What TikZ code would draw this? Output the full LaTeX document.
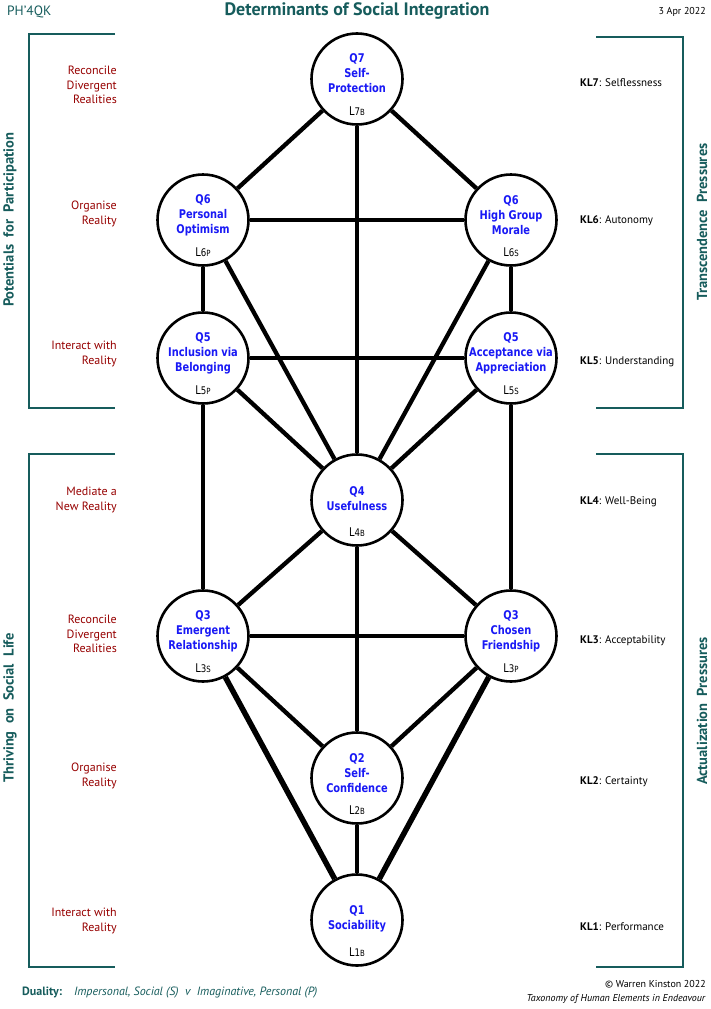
\documentclass[tikz,border=0pt]{standalone}
\usepackage{fontspec}
\setmainfont{PT Sans}
\newfontfamily\qfont[FakeStretch=0.82]{DejaVu Sans}
\usetikzlibrary{backgrounds}
\definecolor{myteal}{RGB}{22,92,92}
\definecolor{myred}{RGB}{150,0,0}
\definecolor{myblue}{RGB}{25,25,245}
\newcommand\qnodeX[6]{%
  \node[qnode] (#1) at (#2,#3) {};
  \node[qtext] (#1t) at (#2,{#3+#6}) {#4};
  \node[lvl] (#1l) at (#2,{#3+32}) {#5};
}
\newcommand\lv[2]{L{\fontsize{10.5}{10.5}\selectfont #1}{\fontsize{8.5}{8.5}\selectfont #2}}
\begin{document}
\begin{tikzpicture}[x=1pt,y=-1pt,
  qnode/.style={circle, draw=black, line width=2.6pt, fill=white, minimum size=91pt, inner sep=0pt},
  qtext/.style={font=\qfont\fontsize{12}{15}\selectfont\bfseries, text=myblue, align=center, inner sep=0pt},
  lvl/.style={font=\qfont\fontsize{12}{12}\selectfont, inner sep=0pt},
  edge/.style={line width=4.3pt},
  fatedge/.style={line width=5.5pt},
  bracket/.style={draw=myteal, line width=2.8pt},
  leftlab/.style={font=\fontsize{12}{14.5}\selectfont, text=myred, align=right, anchor=east, inner sep=0pt},
  rightlab/.style={font=\fontsize{11}{13}\selectfont, anchor=west, inner sep=0pt},
  vlab/.style={font=\fontsize{14.5}{15}\selectfont\bfseries, text=myteal, rotate=90, inner sep=0pt}
]
\useasboundingbox (0,0) rectangle (710,1009);

% header
\node[anchor=west, font=\fontsize{13.5}{14}\selectfont, text=myteal, inner sep=0pt] (hdr) at (7,12) {PH’4QK};
\node[font=\fontsize{18}{18}\selectfont\bfseries, text=myteal, inner sep=0pt] (title) at (357,11) {Determinants of Social Integration};
\node[anchor=east, font=\fontsize{10}{10}\selectfont, inner sep=0pt] (date) at (706,12) {3 Apr 2022};

% brackets
\draw[bracket] (115,34) -- (29,34) -- (29,408) -- (115,408);
\draw[bracket] (115,454) -- (29,454) -- (29,967) -- (115,967);
\draw[bracket] (596,37) -- (683,37) -- (683,408) -- (596,408);
\draw[bracket] (596,454) -- (683,454) -- (683,967) -- (596,967);

% vertical labels
\node[vlab] (vl1) at (10,220) {Potentials\ \ for\ \ Participation};
\node[vlab] (vl2) at (10,708) {Thriving\ \ on\ \ Social\ \ Life};
\node[vlab] (vr1) at (702,222) {Transcendence\ \ Pressures};
\node[vlab] (vr2) at (702,711) {Actualization\ \ Pressures};

% left labels
\node[leftlab] (ll7) at (117,85) {Reconcile\\Divergent\\Realities};
\node[leftlab] (ll6) at (117,214) {Organise\\Reality};
\node[leftlab] (ll5) at (117,354) {Interact with\\Reality};
\node[leftlab] (ll4) at (117,500) {Mediate a\\New Reality};
\node[leftlab] (ll3) at (117,634) {Reconcile\\Divergent\\Realities};
\node[leftlab] (ll2) at (117,776) {Organise\\Reality};
\node[leftlab] (ll1) at (117,921) {Interact with\\Reality};

% right labels
\node[rightlab] (rl7) at (580,83) {\textbf{KL7}: Selflessness};
\node[rightlab] (rl6) at (580,221) {\textbf{KL6}: Autonomy};
\node[rightlab] (rl5) at (580,362) {\textbf{KL5}: Understanding};
\node[rightlab] (rl4) at (580,502) {\textbf{KL4}: Well-Being};
\node[rightlab] (rl3) at (580,641) {\textbf{KL3}: Acceptability};
\node[rightlab] (rl2) at (580,782) {\textbf{KL2}: Certainty};
\node[rightlab] (rl1) at (580,927) {\textbf{KL1}: Performance};

% nodes
\qnodeX{q7}{357}{79}{Q7\\Self-\\Protection}{\lv{7}{B}}{-6}
\qnodeX{q6p}{203}{220}{Q6\\Personal\\Optimism}{\lv{6}{P}}{-5}
\qnodeX{q6s}{511}{220}{Q6\\High Group\\Morale}{\lv{6}{S}}{-5}
\qnodeX{q5p}{203}{358}{Q5\\Inclusion via\\Belonging}{\lv{5}{P}}{-5}
\qnodeX{q5s}{511}{358}{Q5\\Acceptance via\\Appreciation}{\lv{5}{S}}{-5}
\qnodeX{q4}{357}{500}{Q4\\Usefulness}{\lv{4}{B}}{-1}
\qnodeX{q3s}{203}{636}{Q3\\Emergent\\Relationship}{\lv{3}{S}}{-5}
\qnodeX{q3p}{511}{636}{Q3\\Chosen\\Friendship}{\lv{3}{P}}{-5}
\qnodeX{q2}{357}{778}{Q2\\Self-\\Confidence}{\lv{2}{B}}{-5}
\qnodeX{q1}{357}{920}{Q1\\Sociability}{\lv{1}{B}}{-1}

% edges
\begin{scope}[on background layer]
\draw[edge] (q7) -- (q6p);
\draw[edge] (q7) -- (q6s);
\draw[edge] (q7) -- (q4);
\draw[edge] (q6p) -- (q6s);
\draw[edge] (q6p) -- (q5p);
\draw[edge] (q6s) -- (q5s);
\draw[edge] (q6p) -- (q4);
\draw[edge] (q6s) -- (q4);
\draw[edge] (q5p) -- (q5s);
\draw[edge] (q5p) -- (q4);
\draw[edge] (q5s) -- (q4);
\draw[edge] (q5p) -- (q3s);
\draw[edge] (q5s) -- (q3p);
\draw[edge] (q4) -- (q3s);
\draw[edge] (q4) -- (q3p);
\draw[edge] (q4) -- (q2);
\draw[edge] (q3s) -- (q3p);
\draw[edge] (q3s) -- (q2);
\draw[edge] (q3p) -- (q2);
\draw[fatedge] (q3s) -- (q1);
\draw[fatedge] (q3p) -- (q1);
\draw[edge] (q2) -- (q1);
\end{scope}

% footer
\node[anchor=west, font=\fontsize{12}{12}\selectfont, text=myteal, inner sep=0pt] (duality) at (22,993) {\textbf{Duality:}\quad\textit{Impersonal, Social (S)\ \ v\ \ Imaginative, Personal (P)}};
\node[anchor=east, align=right, font=\fontsize{10}{14}\selectfont, inner sep=0pt] (copy) at (706,992) {© Warren Kinston 2022\\\textit{Taxonomy of Human Elements in Endeavour}};
\end{tikzpicture}
\end{document}
